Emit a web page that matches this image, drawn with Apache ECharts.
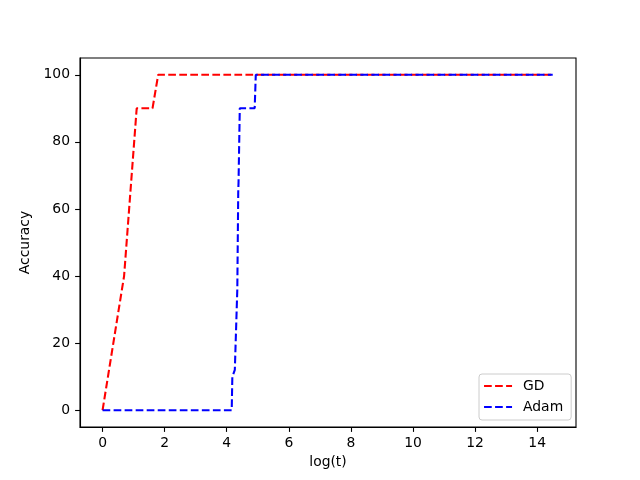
<!DOCTYPE html>
<html>
<head>
<meta charset="utf-8">
<script src="https://cdn.jsdelivr.net/npm/echarts@6/dist/echarts.min.js"></script>
<style>html,body{margin:0;padding:0;background:#fff}#c{width:640px;height:480px}</style>
</head>
<body>
<div id="c"></div>
<script>
// Data
const gdX = [0, 0.693, 1.099, 1.386, 1.609, 1.792, 14.5];
const gdY = [0, 40, 90, 90, 90, 100, 100];
const adamX = [0, 4.16, 4.18, 4.26, 4.34, 4.37, 4.38, 4.42, 4.90, 4.935, 14.5];
const adamY = [0, 0, 10, 12, 36, 65, 68, 90, 90, 100, 100];
const xTicks = [0, 2, 4, 6, 8, 10, 12, 14];
const yTicks = [0, 20, 40, 60, 80, 100];
const seriesNames = ['GD', 'Adam'];

const FONT = 'DejaVu Sans';
const FS = 13.9;
const LW = 2.08;
const DASH = [7.7, 3.33];
const pairs = (xs, ys) => xs.map((x, i) => [x, ys[i]]);

const chart = echarts.init(document.getElementById('c'), null, {renderer: 'canvas'});
chart.setOption({
  animation: false,
  backgroundColor: '#ffffff',
  grid: {left: 80, right: 64, top: 58, bottom: 53, show: true, borderColor: '#000', borderWidth: 1.1, backgroundColor: 'transparent'},
  xAxis: {
    type: 'value', min: -0.727, max: 15.25,
    name: 'log(t)', nameLocation: 'middle', nameGap: 27,
    nameTextStyle: {fontFamily: FONT, fontSize: FS, color: '#000'},
    axisLine: {show: true, onZero: false, lineStyle: {color: '#000', width: 1.1}},
    axisTick: {show: true, length: 4.9, lineStyle: {color: '#000', width: 1.1}, customValues: xTicks},
    axisLabel: {fontFamily: FONT, fontSize: FS, color: '#000', margin: 9, customValues: xTicks},
    splitLine: {show: false}
  },
  yAxis: {
    type: 'value', min: -5, max: 105,
    name: 'Accuracy', nameLocation: 'middle', nameGap: 45,
    nameTextStyle: {fontFamily: FONT, fontSize: FS, color: '#000'},
    axisLine: {show: true, onZero: false, lineStyle: {color: '#000', width: 1.1}},
    axisTick: {show: true, length: 4.9, lineStyle: {color: '#000', width: 1.1}, customValues: yTicks},
    axisLabel: {fontFamily: FONT, fontSize: FS, color: '#000', margin: 10, customValues: yTicks},
    splitLine: {show: false}
  },
  legend: {
    orient: 'vertical', left: 479, top: 374,
    itemWidth: 28, itemHeight: 14, itemGap: 7,
    padding: [5, 8, 6, 4],
    backgroundColor: 'rgba(255,255,255,0.8)', borderColor: '#cccccc', borderWidth: 1, borderRadius: 3,
    textStyle: {fontFamily: FONT, fontSize: FS, color: '#000', padding: [0, 0, 0, 6]},
    itemStyle: {opacity: 0},
    lineStyle: {width: LW},
    data: seriesNames
  },
  series: [
    {name: seriesNames[0], type: 'line', symbol: 'none', data: pairs(gdX, gdY),
     lineStyle: {color: '#ff0000', width: LW, type: DASH}, itemStyle: {color: '#ff0000'}},
    {name: seriesNames[1], type: 'line', symbol: 'none', data: pairs(adamX, adamY),
     lineStyle: {color: '#0000ff', width: LW, type: DASH}, itemStyle: {color: '#0000ff'}}
  ]
});
</script>
</body>
</html>
